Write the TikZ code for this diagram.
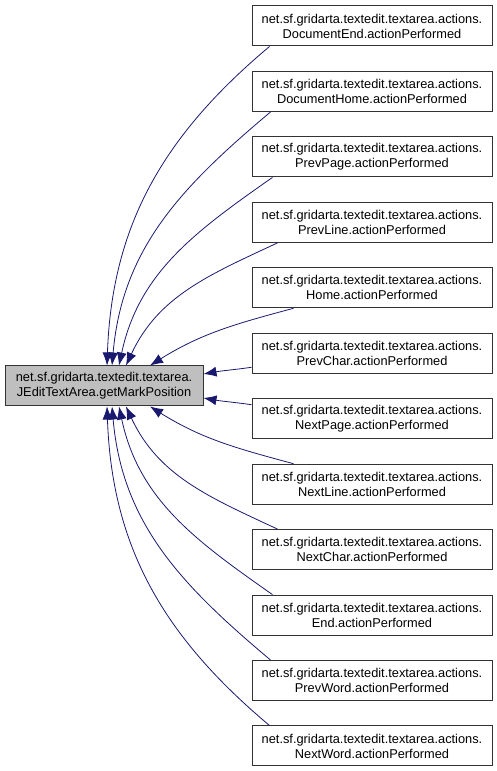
\documentclass[tikz,border=0pt]{standalone}
\usepackage{fontspec}
\setmainfont{Liberation Sans}
\usetikzlibrary{positioning,arrows.meta}
\definecolor{edgeblue}{RGB}{25,25,112}
\definecolor{fngray}{RGB}{191,191,191}

\begin{document}
\begin{tikzpicture}[x=1pt,y=1pt]\begin{scope}[
    fnode/.style={draw=black!80, fill=white, line width=1pt, minimum width=240pt, minimum height=40pt, align=center, inner sep=0pt, font=\fontsize{12.8}{15}\selectfont},
    cnode/.style={fnode, fill=fngray, minimum width=198pt},
    calledge/.style={draw=edgeblue, line width=0.8pt, {Latex[length=13pt,width=10pt]}-}
]
\useasboundingbox (0,0) rectangle (497,771);
% called function
\node[cnode] (gmp) at (104,385) {net.sf.gridarta.textedit.textarea.\\JEditTextArea.getMarkPosition};
% callers
\node[fnode] (docend) at (372,745) {net.sf.gridarta.textedit.textarea.actions.\\DocumentEnd.actionPerformed};
\node[fnode] (dochome) at (372,679.5) {net.sf.gridarta.textedit.textarea.actions.\\DocumentHome.actionPerformed};
\node[fnode] (prevpage) at (372,614.1) {net.sf.gridarta.textedit.textarea.actions.\\PrevPage.actionPerformed};
\node[fnode] (prevline) at (372,548.6) {net.sf.gridarta.textedit.textarea.actions.\\PrevLine.actionPerformed};
\node[fnode] (home) at (372,483.2) {net.sf.gridarta.textedit.textarea.actions.\\Home.actionPerformed};
\node[fnode] (prevchar) at (372,417.7) {net.sf.gridarta.textedit.textarea.actions.\\PrevChar.actionPerformed};
\node[fnode] (nextpage) at (372,352.3) {net.sf.gridarta.textedit.textarea.actions.\\NextPage.actionPerformed};
\node[fnode] (nextline) at (372,286.8) {net.sf.gridarta.textedit.textarea.actions.\\NextLine.actionPerformed};
\node[fnode] (nextchar) at (372,221.4) {net.sf.gridarta.textedit.textarea.actions.\\NextChar.actionPerformed};
\node[fnode] (endact) at (372,155.9) {net.sf.gridarta.textedit.textarea.actions.\\End.actionPerformed};
\node[fnode] (prevword) at (372,90.5) {net.sf.gridarta.textedit.textarea.actions.\\PrevWord.actionPerformed};
\node[fnode] (nextword) at (372,25) {net.sf.gridarta.textedit.textarea.actions.\\NextWord.actionPerformed};
% call edges
\draw[calledge] ([xshift=3pt]gmp.north) to[out=88,in=220] ([xshift=18pt]docend.south west);
\draw[calledge] ([xshift=8pt]gmp.north) to[out=85,in=220] ([xshift=19pt]dochome.south west);
\draw[calledge] ([xshift=15pt]gmp.north) to[out=78,in=215] ([xshift=21pt]prevpage.south west);
\draw[calledge] ([xshift=22pt]gmp.north) to[out=65,in=205] ([xshift=26pt]prevline.south west);
\draw[calledge] ([xshift=46pt]gmp.north) to[out=32,in=195] ([xshift=42pt]home.south west);
\draw[calledge] ([yshift=12pt]gmp.east) to[out=10,in=188] ([yshift=-14pt]prevchar.west);
\draw[calledge] ([yshift=-12pt]gmp.east) to[out=-10,in=172] ([yshift=14pt]nextpage.west);
\draw[calledge] ([xshift=46pt]gmp.south) to[out=-32,in=165] ([xshift=42pt]nextline.north west);
\draw[calledge] ([xshift=22pt]gmp.south) to[out=-65,in=155] ([xshift=26pt]nextchar.north west);
\draw[calledge] ([xshift=15pt]gmp.south) to[out=-78,in=145] ([xshift=21pt]endact.north west);
\draw[calledge] ([xshift=8pt]gmp.south) to[out=-85,in=140] ([xshift=19pt]prevword.north west);
\draw[calledge] ([xshift=3pt]gmp.south) to[out=-88,in=140] ([xshift=18pt]nextword.north west);
\end{scope}
\end{tikzpicture}
\end{document}
